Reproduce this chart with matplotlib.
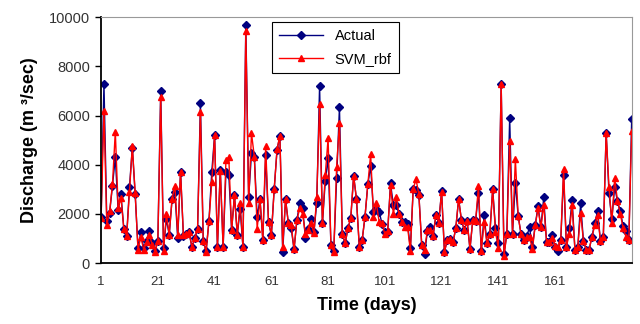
import numpy as np
import matplotlib
matplotlib.use('Agg')
import matplotlib.pyplot as plt

plt.rcParams['font.family'] = ['Liberation Sans', 'DejaVu Sans']

# Измеренный расход (м3/с), по дням
actual = [1880, 7300, 1720, 2050, 3150, 4300, 2150, 2800, 1400, 1100,
          3100, 4700, 2800, 600, 1250, 600, 900, 1300, 800, 500,
          900, 7000, 600, 1800, 1150, 2600, 2900, 1000, 3700, 1100,
          1200, 1250, 650, 1000, 1400, 6500, 900, 500, 1700, 3700,
          5200, 650, 3800, 650, 3700, 3600, 1350, 2750, 1150, 2200,
          640, 9700, 2680, 4460, 4330, 1860, 2600, 930, 4400, 1680,
          1140, 3000, 4600, 5180, 460, 2600, 1610, 1410, 555, 1750,
          2450, 2250, 1030, 1400, 1780, 1250, 2450, 7200, 1610, 3330,
          4280, 730, 500, 3470, 6330, 1180, 800, 1410, 1840, 3550,
          2600, 660, 930, 1880, 3200, 3950, 2090, 2200, 2090, 1600,
          1270, 1270, 3240, 2360, 2360, 2000, 1680, 1680, 1600, 600,
          3030, 2970, 2760, 730, 350, 1300, 1450, 1100, 1950, 1640,
          2930, 460, 930, 960, 840, 1410, 2600, 1750, 1340, 1720,
          570, 1770, 1720, 2860, 500, 1950, 800, 1180, 3000, 1440,
          800, 7280, 350, 1200, 5900, 1200, 3270, 1910, 1180, 930,
          1100, 1450, 650, 1540, 2320, 1450, 2670, 840, 840, 1140,
          640, 490, 930, 3580, 660, 1410, 2560, 550, 640, 2430,
          890, 550, 550, 1070, 1640, 2110, 890, 1070, 5300, 2860,
          1780, 3080, 2520, 2100, 1500, 1300, 930, 5840]

# Прогноз SVM с ядром rbf
svm_rbf = [1850, 6200, 1550, 2100, 3200, 5350, 2250, 2650, 1400, 1100,
           2900, 4750, 2850, 550, 1050, 550, 850, 1150, 750, 450,
           900, 6750, 500, 2000, 1150, 2600, 3150, 1150, 3700, 1150,
           1200, 1250, 650, 1000, 1400, 6150, 900, 450, 1700, 3300,
           5200, 650, 3750, 650, 4200, 4300, 1350, 2750, 1150, 2450,
           640, 9450, 2450, 5280, 4330, 1400, 2600, 930, 4770, 1680,
           1140, 3000, 4620, 5180, 660, 2600, 1610, 1540, 555, 1750,
           2220, 2000, 1200, 1350, 1610, 1230, 2670, 6450, 1610, 3580,
           5070, 730, 460, 3920, 5680, 1180, 800, 1410, 1840, 3550,
           2600, 660, 930, 1880, 3200, 4430, 1880, 2430, 1680, 1610,
           1170, 1300, 3170, 2000, 2700, 2000, 1680, 1480, 1480, 490,
           3030, 3400, 2790, 730, 550, 1340, 1340, 1100, 1950, 1640,
           2900, 460, 930, 960, 840, 1410, 2600, 1750, 1340, 1720,
           570, 1770, 1720, 3140, 500, 1680, 800, 1180, 3000, 1270,
           600, 7280, 300, 1200, 4960, 1200, 4230, 1910, 1180, 930,
           1050, 1070, 555, 1540, 2220, 1450, 2380, 840, 840, 1000,
           700, 640, 930, 3830, 660, 1200, 2360, 550, 640, 2050,
           890, 550, 550, 1070, 1540, 1950, 890, 1070, 5300, 3100,
           1650, 3470, 2520, 2000, 1410, 1070, 930, 5380]

days = np.arange(1, len(actual) + 1)
xtick_vals = [1, 21, 41, 61, 81, 101, 121, 141, 161]
ytick_vals = [0, 2000, 4000, 6000, 8000, 10000]

fig = plt.figure(figsize=(6.4, 3.24), dpi=100)
ax = fig.add_axes([0.158, 0.188, 0.829, 0.759])

ax.plot(days, actual, color='#000080', lw=1, marker='D', ms=3.8, label='Actual')
ax.plot(days, svm_rbf, color='#ff0000', lw=1, marker='^', ms=4.8, label='SVM_rbf')

ax.set_xlim(1, len(actual))
ax.set_ylim(0, 10000)
ax.set_xticks(xtick_vals)
ax.set_yticks(ytick_vals)
ax.tick_params(axis='x', length=0, pad=9, labelsize=9.5, labelcolor='#333333')
ax.tick_params(axis='y', length=4, width=1, direction='out', pad=4, labelsize=10.5, labelcolor='#333333')

for s in ['left', 'bottom']:
    ax.spines[s].set_color('black')
    ax.spines[s].set_linewidth(1.3)
for s in ['top', 'right']:
    ax.spines[s].set_color('#999999')
    ax.spines[s].set_linewidth(0.8)

ax.set_xlabel('Time (days)', fontsize=13, fontweight='bold', labelpad=7)
ax.set_ylabel('Discharge (m \u00b3/sec)', fontsize=13, fontweight='bold', labelpad=8)

leg = ax.legend(loc='upper left', bbox_to_anchor=(0.322, 0.98), borderaxespad=0,
                fontsize=10.5, fancybox=False, edgecolor='black', framealpha=1,
                handlelength=3, borderpad=0.5, labelspacing=0.6)
leg.get_frame().set_linewidth(0.8)

fig.savefig('out.png', dpi=100)
